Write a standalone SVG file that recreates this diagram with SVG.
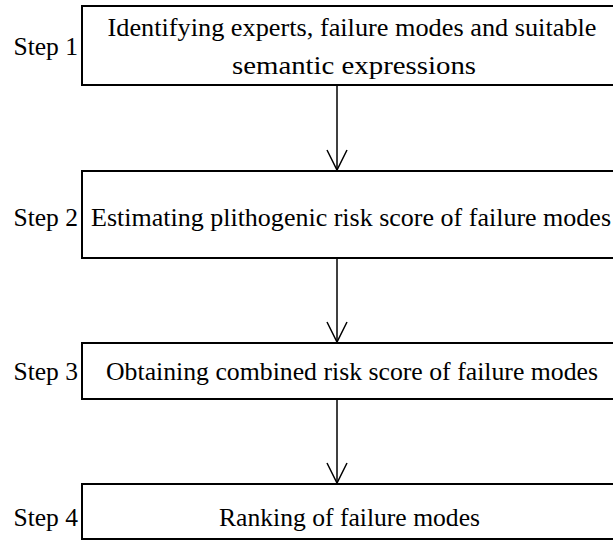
<svg xmlns="http://www.w3.org/2000/svg" width="613" height="541" viewBox="0 0 613 541">
  <style>
    .box { fill: #ffffff; stroke: #000000; stroke-width: 2; }
    .txt { font-family: 'Liberation Serif', 'DejaVu Serif', serif; font-size: 26px; fill: #000000; }
    .link { stroke: #000000; stroke-width: 1.5; fill: none; }
    .head { stroke: #000000; stroke-width: 1.5; fill: none; }
  </style>
  <rect width="613" height="541" fill="#ffffff"/>

  <g id="step1">
    <rect class="box" x="82" y="6" width="540" height="79"/>
    <text class="txt" x="13.5" y="55" textLength="64.5" lengthAdjust="spacingAndGlyphs">Step 1</text>
    <text class="txt" x="107.5" y="36" textLength="489" lengthAdjust="spacingAndGlyphs">Identifying experts, failure modes and suitable</text>
    <text class="txt" x="232" y="74" textLength="244" lengthAdjust="spacingAndGlyphs">semantic expressions</text>
  </g>

  <g id="step2">
    <rect class="box" x="82" y="171" width="540" height="87"/>
    <text class="txt" x="13.5" y="226" textLength="64.5" lengthAdjust="spacingAndGlyphs">Step 2</text>
    <text class="txt" x="91" y="226" textLength="520" lengthAdjust="spacingAndGlyphs">Estimating plithogenic risk score of failure modes</text>
  </g>

  <g id="step3">
    <rect class="box" x="82" y="343" width="540" height="56"/>
    <text class="txt" x="13.5" y="380" textLength="64.5" lengthAdjust="spacingAndGlyphs">Step 3</text>
    <text class="txt" x="106" y="380" textLength="492" lengthAdjust="spacingAndGlyphs">Obtaining combined risk score of failure modes</text>
  </g>

  <g id="step4">
    <rect class="box" x="82" y="484" width="540" height="55"/>
    <text class="txt" x="13.5" y="526" textLength="64.5" lengthAdjust="spacingAndGlyphs">Step 4</text>
    <text class="txt" x="219" y="526" textLength="261" lengthAdjust="spacingAndGlyphs">Ranking of failure modes</text>
  </g>

  <g id="connectors">
    <line class="link" x1="337" y1="85" x2="337" y2="170"/>
    <polyline class="head" points="327,150 337,170 347,150"/>
    <line class="link" x1="337" y1="258" x2="337" y2="342"/>
    <polyline class="head" points="327,322 337,342 347,322"/>
    <line class="link" x1="337" y1="399" x2="337" y2="483"/>
    <polyline class="head" points="327,463 337,483 347,463"/>
  </g>
</svg>
